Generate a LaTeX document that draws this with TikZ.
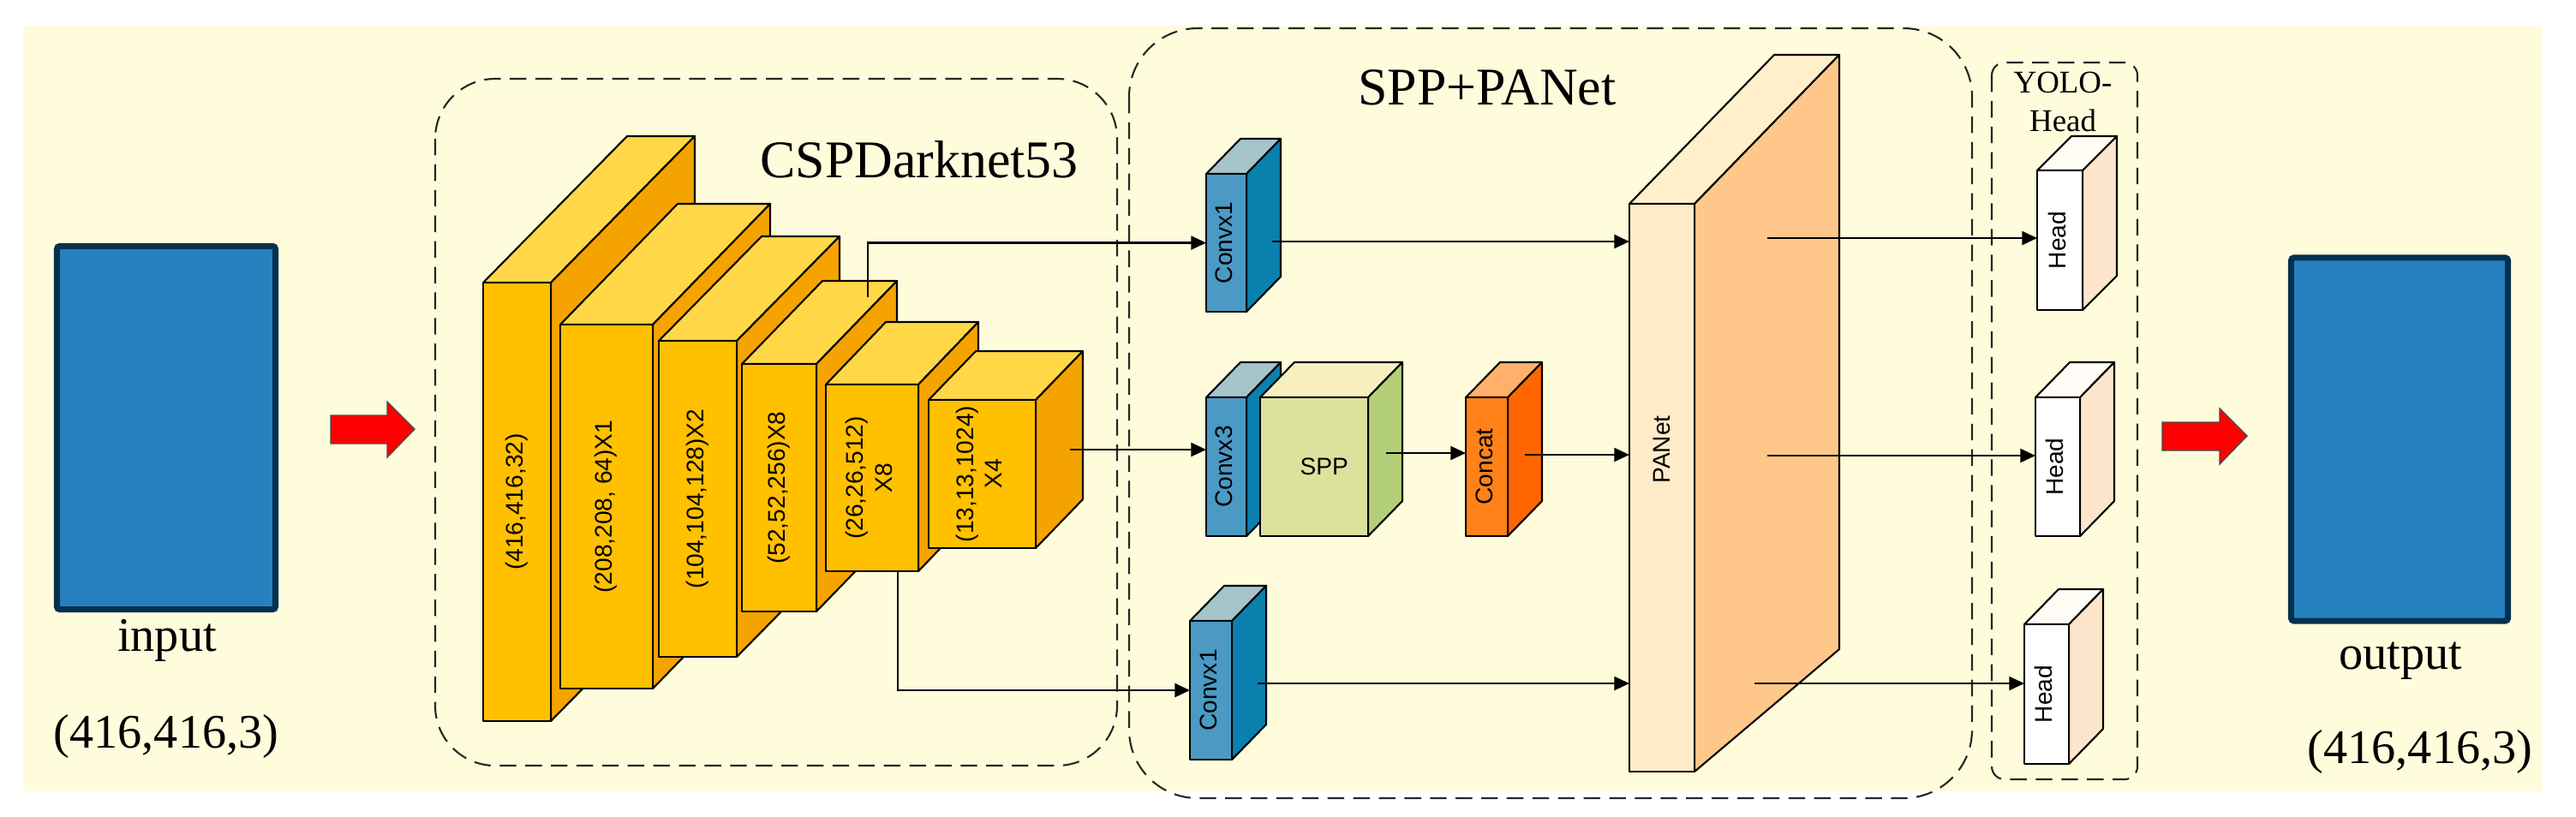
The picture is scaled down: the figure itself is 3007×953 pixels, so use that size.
\documentclass[tikz,border=0pt]{standalone}
\usepackage{fontspec}
\setmainfont{Liberation Serif}
\setsansfont{Liberation Sans}
\usetikzlibrary{arrows.meta,calc}
\definecolor{bg}{HTML}{FFFCDC}
\definecolor{yelF}{HTML}{FFC000}\definecolor{yelT}{HTML}{FFD747}\definecolor{yelS}{HTML}{F5A300}
\definecolor{bluF}{HTML}{4A9AC4}\definecolor{bluT}{HTML}{A6C4CC}\definecolor{bluS}{HTML}{0A80AE}
\definecolor{sppF}{HTML}{DCE29C}\definecolor{sppT}{HTML}{F8EFC0}\definecolor{sppS}{HTML}{B3CF78}
\definecolor{conF}{HTML}{FF8118}\definecolor{conT}{HTML}{FFB06A}\definecolor{conS}{HTML}{FF6600}
\definecolor{panF}{HTML}{FFEBC8}\definecolor{panT}{HTML}{FFEFCB}\definecolor{panS}{HTML}{FFC88A}
\definecolor{hedF}{HTML}{FFFFFF}\definecolor{hedT}{HTML}{FFFDF5}\definecolor{hedS}{HTML}{FDE5CB}
\definecolor{imgF}{HTML}{2681BE}\definecolor{imgB}{HTML}{06304F}
\tikzset{
  face/.style={draw=black,line width=0.6pt,line join=round},
  lbl/.style={font=\sffamily\fontsize{8}{9.5}\selectfont,inner sep=0pt,outer sep=0pt,align=center},
  arr/.style={line width=0.7pt,-{Triangle[length=5pt,width=4.5pt]}},
  ln/.style={line width=0.7pt},
  dbox/.style={draw=black!85,line width=0.6pt,dash pattern=on 5.5pt off 3pt},
  title/.style={font=\fontsize{17.6}{20}\selectfont,inner sep=0pt},
  big/.style={font=\fontsize{16}{18}\selectfont,inner sep=0pt},
  redarrow/.style={fill=red,draw=black!70,line width=0.4pt},
}
% #1 name, #2 x1, #3 y1, #4 x2, #5 y2, #6 dx, #7 dy, #8 colour prefix, #9 text
\newcommand\blk[9]{%
  \draw[face,fill=#8T] (#2,#3) -- ({#2+#6},{#3-#7}) -- ({#4+#6},{#3-#7}) -- (#4,#3) -- cycle;
  \draw[face,fill=#8S] (#4,#3) -- ({#4+#6},{#3-#7}) -- ({#4+#6},{#5-#7}) -- (#4,#5) -- cycle;
  \draw[face,fill=#8F] (#2,#3) rectangle (#4,#5);
  \node[lbl,minimum width={(#4-#2)*0.01cm},minimum height={(#5-#3)*0.01cm}] (#1) at ({(#2+#4)/2},{(#3+#5)/2}) {\rotatebox{90}{\begin{tabular}{@{}c@{}}#9\end{tabular}}};
}
\begin{document}
\begin{tikzpicture}[x=0.01cm,y=-0.01cm]
\useasboundingbox (0,0) rectangle (3007,953);
\fill[bg] (27,30) rectangle (2967,924);

% input / output
\node[draw=imgB,fill=imgF,line width=2pt,minimum width=2.55cm,minimum height=4.24cm,rounded corners=1pt] (in) at (194,499.5) {};
\node[big,anchor=base] (inlbl) at (195,760) {input};
\node[big] (insz) at (194,860) {(416,416,3)};
\node[draw=imgB,fill=imgF,line width=2pt,minimum width=2.53cm,minimum height=4.24cm,rounded corners=1pt] (out) at (2801,513) {};
\node[big,anchor=base] (outlbl) at (2802,781) {output};
\node[big] (outsz) at (2825,878) {(416,416,3)};

% red arrows
\draw[redarrow] (386,485) -- (452,485) -- (452,469) -- (484,501) -- (452,534) -- (452,518) -- (386,518) -- cycle;
\draw[redarrow] (2524,493) -- (2591,493) -- (2591,477) -- (2623,509) -- (2591,542) -- (2591,526) -- (2524,526) -- cycle;

% dashed boxes
\draw[dbox,rounded corners=0.7cm] (508,92) rectangle (1304,894);
\draw[dbox,rounded corners=0.8cm] (1318,33) rectangle (2302,932);
\draw[dbox,rounded corners=0.15cm] (2325,73) rectangle (2495,910);
\node[title] (t1) at (1073,186) {CSPDarknet53};
\node[title] (t2) at (1736,102) {SPP+PANet};
\node[font=\fontsize{10.5}{12}\selectfont,inner sep=0pt] (t3) at (2408,96) {YOLO-};
\node[font=\fontsize{10.5}{12}\selectfont,inner sep=0pt] (t4) at (2408,141) {Head};

% backbone
\blk{b1}{564}{330}{643}{842}{168}{171}{yel}{(416,416,32)}
\blk{b2}{654}{379}{762}{804}{137}{141}{yel}{(208,208, 64)X1}
\blk{b3}{769}{398}{860}{767}{120}{122}{yel}{(104,104,128)X2}
\blk{b4}{866}{425}{953}{714}{94}{97}{yel}{(52,52,256)X8}
\blk{b5}{964}{449}{1072}{667}{70}{73}{yel}{(26,26,512)\\X8}
\blk{b6}{1084}{467}{1209}{640}{55}{57}{yel}{(13,13,1024)\\X4}

% neck
\blk{cv1a}{1408}{203}{1455}{364}{40}{41}{blu}{Convx1}
\blk{cv3}{1408}{464}{1455}{626}{40}{41}{blu}{Convx3}
\blk{spp}{1471}{464}{1597}{626}{40}{41}{spp}{\rotatebox{-90}{SPP}}
\blk{con}{1711}{464}{1760}{626}{40}{41}{con}{Concat}
\blk{cv1b}{1389}{725}{1438}{887}{40}{41}{blu}{Convx1}

% PANet
\draw[face,fill=panT] (1902,238) -- (2071,64) -- (2147,64) -- (1978,238) -- cycle;
\draw[face,fill=panS] (1978,238) -- (2147,64) -- (2147,758) -- (1978,901) -- cycle;
\draw[face,fill=panF] (1902,238) rectangle (1978,901);
\node[lbl,minimum width=0.76cm,minimum height=6.63cm] (pan) at (1940,569.5) {};
\node[lbl] (panlbl) at (1940,525) {\rotatebox{90}{PANet}};

% heads
\blk{h1}{2378}{199}{2431}{362}{40}{40}{hed}{Head}
\blk{h2}{2376}{464}{2428}{626}{40}{41}{hed}{Head}
\blk{h3}{2363}{729}{2415}{892}{40}{41}{hed}{Head}

% connectors
\coordinate (b4t) at (1013,347);
\coordinate (b5b) at (1048,667);
\coordinate (b6s) at (1249,525);
\draw[arr] (b4t) |- (cv1a.west);
\draw[arr] (b5b) |- (cv1b.west);
\draw[arr] (b6s) -- (b6s -| cv3.west);
\coordinate (c1) at (1485,282);
\coordinate (c2) at (1618,529);
\coordinate (c3) at (1780,531);
\coordinate (c4) at (1468,798);
\draw[arr] (c1) -- (c1 -| pan.west);
\draw[arr] (c2) -- (c2 -| con.west);
\draw[arr] (c3) -- (c3 -| pan.west);
\draw[arr] (c4) -- (c4 -| pan.west);
\coordinate (p1) at (2063,278);
\coordinate (p2) at (2063,532);
\coordinate (p3) at (2048,798);
\draw[arr] (p1) -- (p1 -| h1.west);
\draw[arr] (p2) -- (p2 -| h2.west);
\draw[arr] (p3) -- (p3 -| h3.west);
\end{tikzpicture}
\end{document}
